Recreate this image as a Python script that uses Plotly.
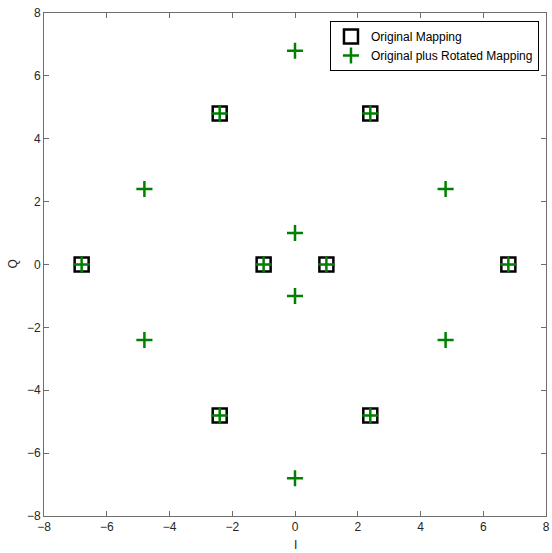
import plotly.graph_objects as go

orig_I = [-6.8, -1.0, 1.0, 6.8, -2.4, 2.4, -2.4, 2.4]
orig_Q = [0.0, 0.0, 0.0, 0.0, 4.8, 4.8, -4.8, -4.8]
rot_I = [0.0, 0.0, 0.0, 0.0, -4.8, -4.8, 4.8, 4.8]
rot_Q = [-6.8, -1.0, 1.0, 6.8, -2.4, 2.4, -2.4, 2.4]
tick_vals = [-8, -6, -4, -2, 0, 2, 4, 6, 8]

FONT = "Liberation Sans, Arial"
TXT = "rgb(38,38,38)"

fig = go.Figure()
fig.add_trace(go.Scatter(
    x=orig_I, y=orig_Q, mode="markers", name="Original Mapping",
    marker=dict(symbol="square-open", size=14, color="black",
                line=dict(width=2.5, color="black")),
))
fig.add_trace(go.Scatter(
    x=orig_I + rot_I, y=orig_Q + rot_Q, mode="markers",
    name="Original plus Rotated Mapping",
    marker=dict(symbol="cross-thin-open", size=11.5, color="rgb(0,128,0)",
                line=dict(width=2.5, color="rgb(0,128,0)")),
))

axis_common = dict(
    range=[-8, 8], tickvals=tick_vals, showgrid=False, zeroline=False,
    showline=True, linecolor="rgb(110,110,110)", linewidth=1, mirror="ticks",
    ticks="inside", ticklen=5, tickcolor="rgb(110,110,110)",
    tickfont=dict(family=FONT, size=12, color=TXT), automargin=False,
    ticklabeloverflow="allow",
)

fig.update_layout(
    width=552, height=553,
    margin=dict(l=44, r=6, t=13, b=37),
    plot_bgcolor="white", paper_bgcolor="white",
    showlegend=True,
    xaxis=dict(**axis_common),
    yaxis=dict(**axis_common),
    legend=dict(
        x=0.986, y=0.984, xanchor="right", yanchor="top",
        bgcolor="white", bordercolor="black", borderwidth=1,
        font=dict(family=FONT, size=12, color="black"),
        tracegroupgap=0, itemwidth=30,
    ),
    annotations=[
        dict(text="I", xref="paper", yref="paper", x=0.5, y=0, yshift=-29,
             xanchor="center", yanchor="middle", showarrow=False,
             font=dict(family=FONT, size=12, color=TXT)),
        dict(text="Q", xref="paper", yref="paper", x=0, y=0.5, xshift=-32,
             xanchor="center", yanchor="middle", showarrow=False, textangle=-90,
             font=dict(family=FONT, size=12, color=TXT)),
    ],
)

fig.write_html("out.html",
               config={"displayModeBar": False},
               post_script="document.body.style.margin='0';")
